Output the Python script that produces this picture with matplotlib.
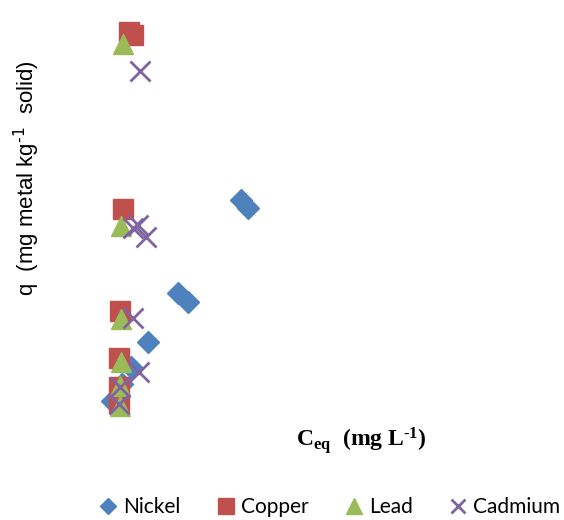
import matplotlib
matplotlib.use("Agg")
import matplotlib.pyplot as plt

# equilibrium concentration (mg/L) and uptake q (mg metal / kg solid)
nickel_c = [14.1, 14.8, 7.8, 8.8, 4.8, 3.1, 2.2, 1.2]
nickel_q = [2250, 2170, 1320, 1230, 830, 580, 410, 240]
copper_c = [2.9, 3.3, 2.3, 2.0, 1.9, 1.9, 1.9]
copper_q = [3930, 3900, 2160, 1140, 670, 380, 220]
lead_c = [2.3, 2.1, 2.1, 2.1, 2.0, 2.0]
lead_q = [3810, 1990, 1060, 630, 390, 190]
cadmium_c = [4.0, 3.3, 3.8, 4.6, 3.3, 3.9, 2.0, 1.9]
cadmium_q = [3540, 1970, 2000, 1880, 1070, 530, 380, 210]

# bold serif maths for the x label only
plt.rcParams["mathtext.rm"] = "Liberation Serif:bold"
plt.rcParams["mathtext.bf"] = "Liberation Serif:bold"
plt.rcParams["mathtext.it"] = "Liberation Serif:bold"

W, H = 564, 520
fig = plt.figure(figsize=(W / 100, H / 100), dpi=100)
# axes box in pixels: left 100, right 560, top 10, bottom 425
ax = fig.add_axes([100 / W, (H - 425) / H, 460 / W, 415 / H])

ax.plot(nickel_c, nickel_q, "D", color="#4F81BD", ms=11.5, mec="#4F81BD",
        ls="none", label="Nickel")
ax.plot(copper_c, copper_q, "s", color="#C0504D", ms=14.5, mec="#C0504D",
        ls="none", label="Copper")
ax.plot(lead_c, lead_q, "^", color="#9BBB59", ms=15, mec="#9BBB59",
        ls="none", label="Lead")
ax.plot(cadmium_c, cadmium_q, "x", color="#8064A2", ms=14, mew=2,
        ls="none", label="Cadmium")

ax.set_xlim(0, 46)
ax.set_ylim(0, 4150)
for s in ax.spines.values():
    s.set_visible(False)
ax.set_xticks([])
ax.set_yticks([])

fig.text(27 / W, 1 - 178 / H, r"q  (mg metal kg$^{\text{-1}}$  solid)",
         rotation=90, ha="center", va="center", fontsize=16,
         family="Liberation Sans", math_fontfamily="dejavusans")
fig.text(361 / W, 1 - 440 / H, r"C$_{\text{eq}}$  (mg L$^{\text{-1}}$)",
         ha="center", va="center", fontsize=17, weight="bold",
         family="Liberation Serif", math_fontfamily="custom")

fig.legend(loc="center", bbox_to_anchor=(330 / W, 1 - 507 / H), ncol=4,
           frameon=False, prop={"family": "Lato", "size": 15},
           handlelength=0.8, handletextpad=0.3, columnspacing=1.8,
           markerscale=0.75)

fig.savefig("out.png", dpi=100)
